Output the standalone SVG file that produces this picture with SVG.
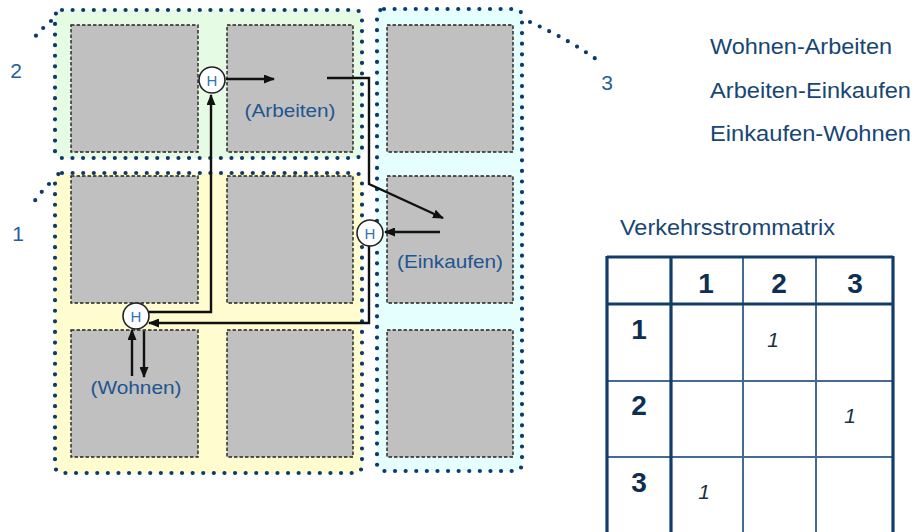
<svg xmlns="http://www.w3.org/2000/svg" width="916" height="532" viewBox="0 0 916 532">
<style>
.zone{stroke:#0c3a6a;stroke-width:4.2;stroke-dasharray:0 10.6;stroke-linecap:round;}
.lead{fill:none;stroke:#0c3a6a;stroke-width:4.2;stroke-dasharray:0 10.6;stroke-linecap:round;}
.blk{fill:#c0c0c0;stroke:#222;stroke-width:1.4;stroke-dasharray:3.5 2;}
.hc{fill:#fff;stroke:#222;stroke-width:1.6;}
.ht{font-family:"Liberation Sans",Arial,sans-serif;font-size:15px;fill:#2e75b6;text-anchor:middle;}
.lbl{font-family:"Liberation Sans",Arial,sans-serif;font-size:18.5px;fill:#1f5590;text-anchor:middle;}
.zl{font-family:"Liberation Sans",Arial,sans-serif;font-size:21px;fill:#245f99;text-anchor:middle;}
.rt{font-family:"Liberation Sans",Arial,sans-serif;font-size:21.5px;fill:#174675;}
.con{fill:none;stroke:#111;stroke-width:2.4;}
.thick{stroke:#123d6b;stroke-width:3.2;}
.thin{stroke:#466a90;stroke-width:2;}
.th{font-family:"Liberation Sans",Arial,sans-serif;font-size:28px;font-weight:bold;fill:#0f2f52;text-anchor:middle;}
.tv{font-family:"Liberation Sans",Arial,sans-serif;font-size:21px;font-style:italic;fill:#1b2f45;text-anchor:middle;}
</style>
<defs>
<marker id="ah" markerUnits="userSpaceOnUse" markerWidth="11" markerHeight="9" refX="10" refY="4.5" orient="auto">
<path d="M0,0 L11,4.5 L0,9 Z" fill="#111"/>
</marker>
</defs>
<rect width="916" height="532" fill="#fff"/>

<g id="zone2">
<rect x="55" y="10" width="307" height="148" rx="7" fill="#e6fbe3" class="zone"/>
<rect class="blk" x="71" y="25" width="127" height="127"/>
<rect class="blk" x="227" y="25" width="126" height="127"/>
<path class="lead" d="M51,21 Q40,30 30,43"/>
<text class="zl" x="16" y="78">2</text>
</g>
<g id="zone1">
<rect x="55" y="173" width="307" height="300" rx="7" fill="#fffdd0" class="zone"/>
<rect class="blk" x="71" y="176" width="127" height="127"/>
<rect class="blk" x="227" y="176" width="126" height="127"/>
<rect class="blk" x="71" y="330" width="127" height="127"/>
<rect class="blk" x="227" y="330" width="126" height="127"/>
<path class="lead" d="M49,184 Q39,194 32,205"/>
<text class="zl" x="18" y="241">1</text>
</g>
<g id="zone3">
<rect x="377" y="9" width="145" height="462" rx="7" fill="#e5ffff" class="zone"/>
<rect class="blk" x="387" y="25" width="126" height="127"/>
<rect class="blk" x="387" y="176" width="126" height="127"/>
<rect class="blk" x="387" y="330" width="126" height="127"/>
<path class="lead" d="M530,22 Q570,40 600,62"/>
<text class="zl" x="607" y="90">3</text>
</g>

<g id="connectors">
<path class="con" d="M149,312 H211 V95" marker-end="url(#ah)"/>
<path class="con" d="M226,79 H274" marker-end="url(#ah)"/>
<path class="con" d="M327,78 H369 V184 L443,218" marker-end="url(#ah)"/>
<path class="con" d="M440,232 H385" marker-end="url(#ah)"/>
<path class="con" d="M369,246 V323 H149" marker-end="url(#ah)"/>
<path class="con" d="M132,376 V330" marker-end="url(#ah)"/>
<path class="con" d="M144,331 V377" marker-end="url(#ah)"/>
</g>

<g id="h-arbeiten">
<circle class="hc" cx="212" cy="80" r="13"/>
<text class="ht" x="212" y="85.5">H</text>
<text class="lbl" x="290" y="117" textLength="91" lengthAdjust="spacingAndGlyphs">(Arbeiten)</text>
</g>
<g id="h-einkaufen">
<circle class="hc" cx="370" cy="233" r="13"/>
<text class="ht" x="370" y="238.5">H</text>
<text class="lbl" x="450" y="268" textLength="106" lengthAdjust="spacingAndGlyphs">(Einkaufen)</text>
</g>
<g id="h-wohnen">
<circle class="hc" cx="136" cy="316" r="13"/>
<text class="ht" x="136" y="321.5">H</text>
<text class="lbl" x="136" y="394" textLength="91" lengthAdjust="spacingAndGlyphs">(Wohnen)</text>
</g>

<g id="legend">
<text class="rt" x="710" y="54" textLength="182" lengthAdjust="spacingAndGlyphs">Wohnen-Arbeiten</text>
<text class="rt" x="710" y="98" textLength="201" lengthAdjust="spacingAndGlyphs">Arbeiten-Einkaufen</text>
<text class="rt" x="710" y="141" textLength="201" lengthAdjust="spacingAndGlyphs">Einkaufen-Wohnen</text>
<text class="rt" x="620" y="235" textLength="215" lengthAdjust="spacingAndGlyphs">Verkehrsstrommatrix</text>
</g>

<g id="matrix">
<line class="thin" x1="607" y1="381" x2="893" y2="381"/>
<line class="thin" x1="607" y1="457" x2="893" y2="457"/>
<line class="thin" x1="743" y1="257" x2="743" y2="540"/>
<line class="thin" x1="816" y1="257" x2="816" y2="540"/>
<line class="thick" x1="607" y1="257" x2="893" y2="257"/>
<line class="thick" x1="607" y1="304" x2="893" y2="304"/>
<line class="thick" x1="607" y1="256" x2="607" y2="540"/>
<line class="thick" x1="671" y1="256" x2="671" y2="540"/>
<line class="thick" x1="893" y1="256" x2="893" y2="540"/>
<text class="th" x="706" y="293">1</text>
<text class="th" x="779" y="293">2</text>
<text class="th" x="855" y="293">3</text>
<text class="th" x="639" y="339">1</text>
<text class="th" x="639" y="415">2</text>
<text class="th" x="639" y="492">3</text>
<text class="tv" x="773" y="347">1</text>
<text class="tv" x="850" y="423">1</text>
<text class="tv" x="704" y="499">1</text>
</g>
</svg>
